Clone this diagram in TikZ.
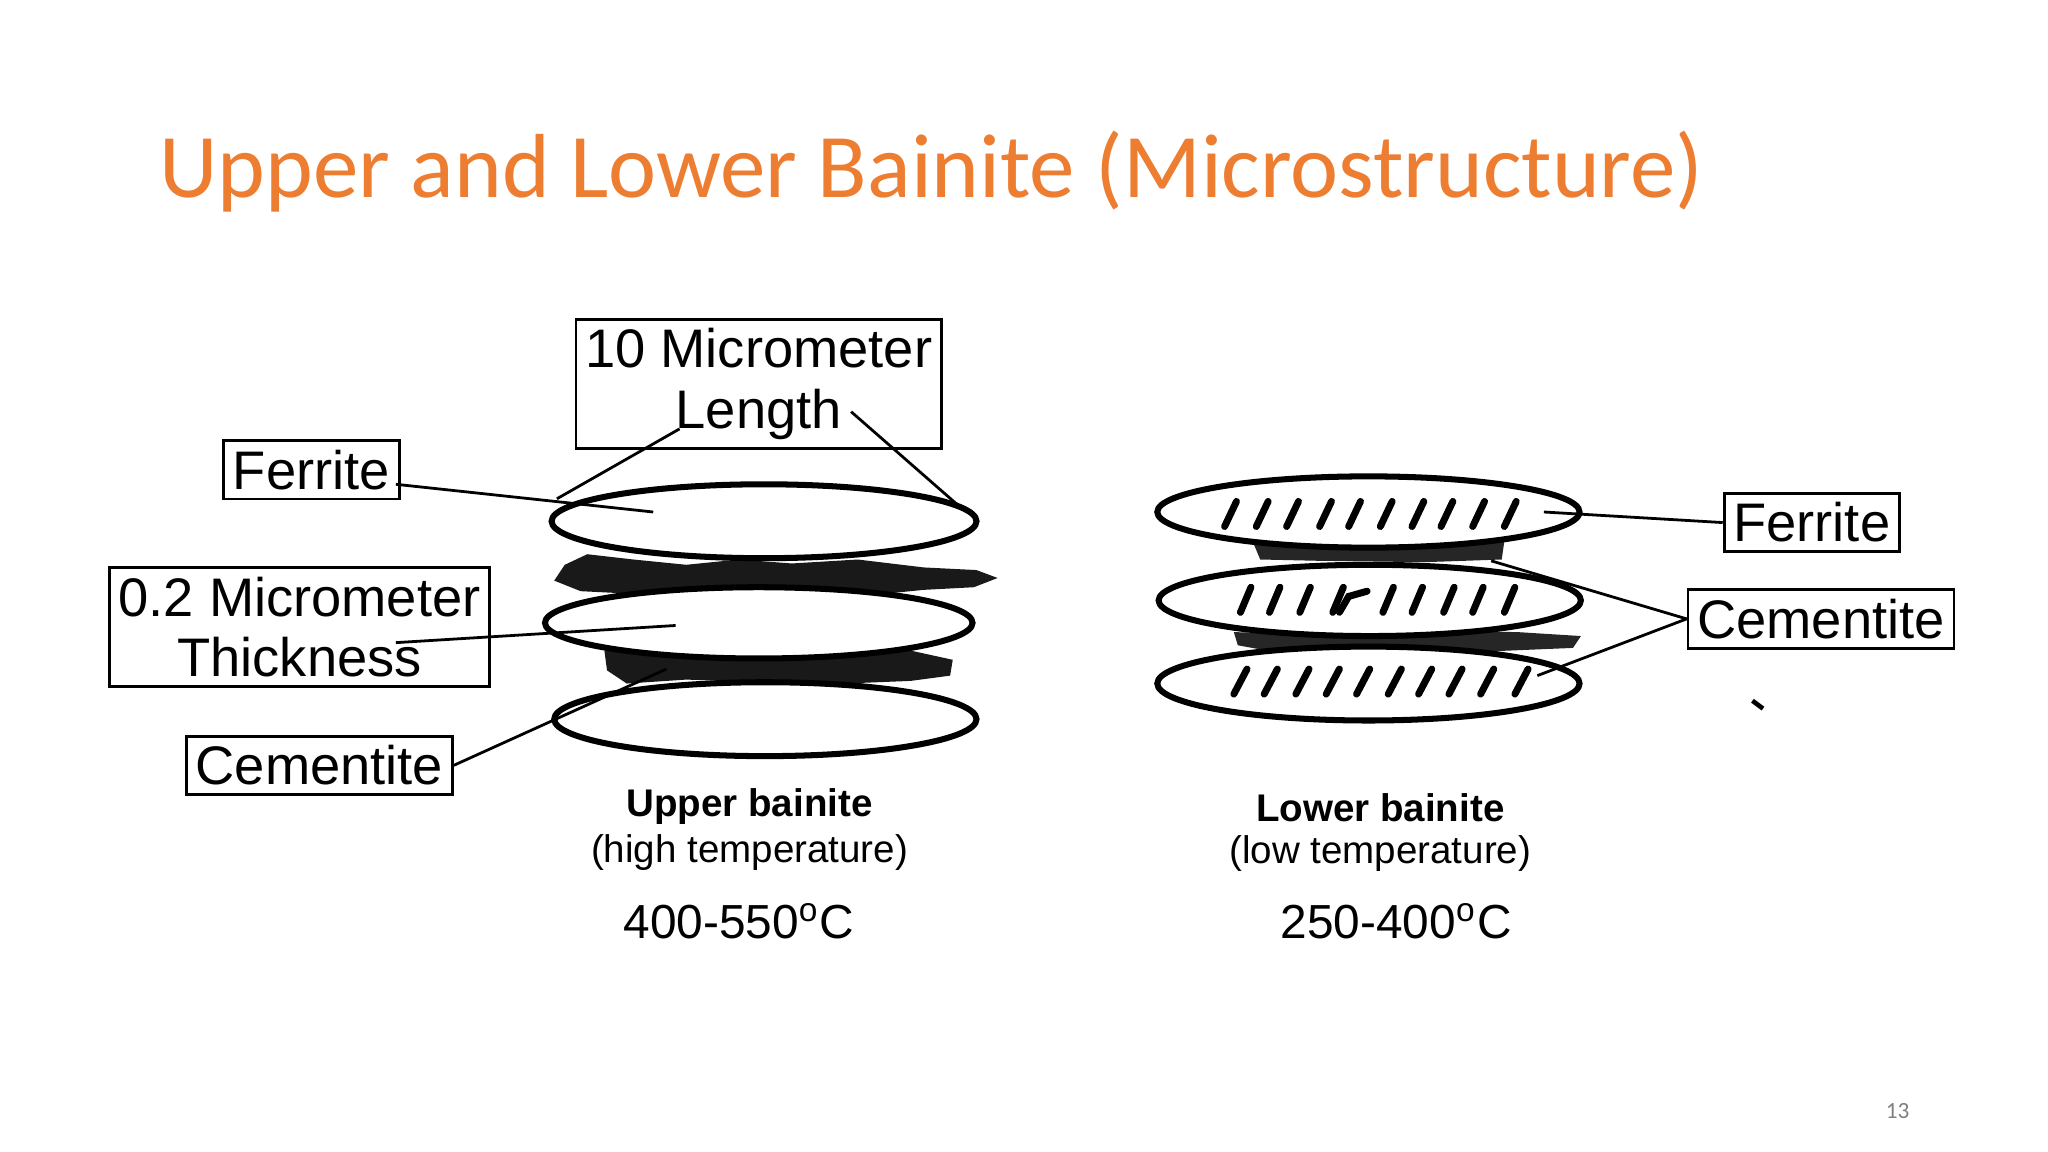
\documentclass[tikz,border=0pt]{standalone}
\usepackage{fontspec}
\setmainfont{Liberation Sans}
\newfontfamily\calfont{Carlito}
\begin{document}
\begin{tikzpicture}[x=0.01cm,y=-0.01cm,
  lbl/.style={draw,line width=0.6pt,inner sep=2pt,font=\fontsize{11.7}{13}\selectfont,align=center},
  ell/.style={draw,line width=1.3pt},
  con/.style={line width=0.6pt},
  captxt/.style={font=\fontsize{8.3}{10}\selectfont\bfseries},
  sub/.style={font=\fontsize{8.3}{10}\selectfont},
  hatch/.style={line width=1.5pt,line cap=round}]
\useasboundingbox (0,0) rectangle (1552,873);
\definecolor{ttl}{HTML}{ED7D31}
\node[anchor=west,inner sep=0pt,text=ttl,font=\calfont\fontsize{19.6}{24}\selectfont] (title) at (120,130) {Upper and Lower Bainite (Microstructure)};
\node[text=gray,font=\calfont\fontsize{5}{6}\selectfont] (pg) at (1438,842) {13};
% upper bainite blobs
\fill[black!90] (428,428) -- (445,420) -- (480,424) -- (520,428) -- (560,424) -- (600,427) -- (650,424) -- (700,430) -- (740,432) -- (756,438) -- (738,445) -- (700,447) -- (650,452) -- (600,455) -- (540,452) -- (480,450) -- (440,448) -- (420,440) -- cycle;
\fill[black!90] (458,493) -- (490,490) -- (530,496) -- (580,494) -- (630,497) -- (690,493) -- (722,500) -- (720,512) -- (690,516) -- (640,518) -- (580,517) -- (520,515) -- (475,518) -- (460,508) -- cycle;
% upper ellipses
\draw[ell,fill=white] (579,395) ellipse (161 and 28);
\draw[ell,fill=white] (575,472) ellipse (162 and 27);
\draw[ell,fill=white] (580,545) ellipse (160 and 28);
\coordinate (uA) at (422,378); \coordinate (uB) at (725,382);
\coordinate (uF) at (495,388); \coordinate (uT) at (512,474); \coordinate (uC) at (505,507);
\node[lbl] (len) at (575,291) {10 Micrometer\\Length};
\node[lbl] (fer) at (236,356) {Ferrite};
\node[lbl] (thk) at (227,475) {0.2 Micrometer\\Thickness};
\node[lbl] (cem) at (242,580) {Cementite};
\coordinate (l1) at (515,325); \coordinate (l2) at (645,312);
\coordinate (f1) at (300,367); \coordinate (t1) at (300,487);
\draw[con] (l1) -- (uA);
\draw[con] (l2) -- (uB);
\draw[con] (f1) -- (uF);
\draw[con] (t1) -- (uT);
\draw[con] (cem.east) -- (uC);
\node[captxt] (ub) at (568,611) {Upper bainite};
\node[sub] (ubt) at (568,646) {(high temperature)};
\node[font=\fontsize{10.3}{12}\selectfont] (ubr) at (560,698) {400-550\textsuperscript{o}C};
% lower bainite
\fill[black!85] (950,412) -- (1000,409) -- (1060,413) -- (1140,410) -- (1138,424) -- (1080,426) -- (1000,425) -- (955,424) -- cycle;
\fill[black!85] (935,479) -- (1000,481) -- (1080,478) -- (1150,479) -- (1198,482) -- (1192,491) -- (1120,494) -- (1040,492) -- (960,493) -- (938,489) -- cycle;
\draw[ell,fill=white] (1037,388) ellipse (160 and 27);
\draw[ell,fill=white] (1038,455) ellipse (160 and 27);
\draw[ell,fill=white] (1037,518) ellipse (160 and 28);
\foreach \x in {928,952,975,1000,1022,1046,1070,1092,1116,1140} {\draw[hatch] (\x,399) -- (\x+9,380);}
\foreach \x in {940,962,985,1010,1048,1070,1094,1116,1140} {\draw[hatch] (\x,464) -- (\x+8,445);}
\draw[hatch] (1015,464) -- (1022,452) -- (1036,448);
\foreach \x in {935,958,982,1005,1028,1052,1075,1098,1122,1148} {\draw[hatch] (\x,526) -- (\x+10,507);}
\coordinate (lF) at (1170,388); \coordinate (lC1) at (1130,425); \coordinate (lC2) at (1165,512);
\node[lbl] (fer2) at (1373,396) {Ferrite};
\node[lbl] (cem2) at (1380,469) {Cementite};
\draw[con] (fer2.west) -- (lF);
\draw[con] (cem2.west) -- (lC1);
\draw[con] (cem2.west) -- (lC2);
\draw[line width=1pt] (1328,531) -- (1336,537);
\node[captxt] (lb) at (1046,612) {Lower bainite};
\node[sub] (lbt) at (1046,647) {(low temperature)};
\node[font=\fontsize{10.3}{12}\selectfont] (lbr) at (1058,698) {250-400\textsuperscript{o}C};
\end{tikzpicture}
\end{document}
